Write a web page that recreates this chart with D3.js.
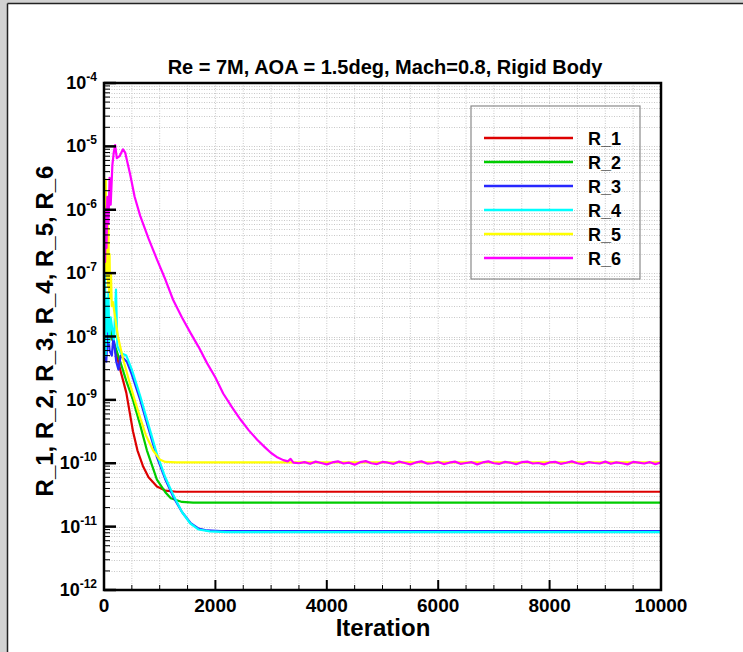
<!DOCTYPE html>
<html>
<head>
<meta charset="utf-8">
<script src="https://cdn.jsdelivr.net/npm/d3@7"></script>
<style>
  body { margin: 0; background: #fff; }
  svg text { font-family: "Liberation Sans", Arial, Helvetica, sans-serif; font-weight: bold; fill: #000; }
</style>
</head>
<body>
<svg id="chart" width="743" height="652"></svg>
<script>
// series: [iteration, residual]
const seriesNames = ["R_1", "R_2", "R_3", "R_4", "R_5", "R_6"]
const seriesColors = ["#dd0000", "#00cc00", "#2828ff", "#00ffff", "#ffff00", "#ff00ff"]

const r1 = [[10, 4e-8], [30, 2e-8], [60, 1.3e-8], [100, 1.8e-8], [130, 9e-9], [160, 1.1e-8], [200, 6e-9],
  [250, 4.2e-9], [300, 2.8e-9], [400, 1.3e-9], [520, 3.2e-10], [600, 1.6e-10], [700, 9e-11], [800, 6e-11],
  [950, 4.3e-11], [1100, 3.7e-11], [1300, 3.55e-11], [10000, 3.55e-11]]
const r2 = [[10, 2.5e-8], [40, 1.2e-8], [100, 1.4e-8], [150, 9e-9], [200, 7e-9], [300, 3.8e-9], [400, 2e-9],
  [520, 1e-9], [650, 4e-10], [770, 1.6e-10], [950, 5.5e-11], [1100, 3.5e-11], [1200, 2.8e-11],
  [1400, 2.45e-11], [1600, 2.4e-11], [10000, 2.4e-11]]
const r3 = [[10, 1e-8], [40, 4e-9], [70, 1.3e-8], [100, 6e-9], [140, 5e-9], [170, 1e-8], [220, 4e-9],
  [260, 3e-9], [300, 5e-9], [410, 4e-9], [500, 2.5e-9], [650, 1e-9], [800, 3.5e-10], [950, 1.25e-10],
  [1100, 5.6e-11], [1240, 3e-11], [1400, 1.7e-11], [1550, 1.15e-11], [1700, 9.3e-12], [1850, 8.7e-12],
  [2100, 8.5e-12], [10000, 8.5e-12]]
const r4 = [[5, 1.2e-7], [20, 6e-8], [30, 5e-9], [45, 4e-8], [60, 1.2e-8], [80, 5e-8], [95, 8e-9],
  [120, 2e-8], [150, 1.3e-8], [180, 9e-9], [215, 5.5e-8], [240, 7e-9], [300, 5.5e-9], [400, 5e-9],
  [500, 3e-9], [650, 1.15e-9], [800, 4e-10], [950, 1.4e-10], [1100, 6e-11], [1240, 3.2e-11],
  [1400, 1.7e-11], [1550, 1.12e-11], [1700, 9e-12], [1900, 8.4e-12], [2200, 8.2e-12], [10000, 8.2e-12]]
const r5 = [[0, 3e-6], [8, 2e-7], [16, 2.5e-6], [24, 1.5e-7], [32, 3e-6], [40, 1e-7], [48, 1.5e-6],
  [56, 8e-8], [64, 1e-6], [72, 6e-8], [80, 5e-7], [90, 5e-8], [100, 2e-7], [110, 4e-8], [125, 1e-7],
  [140, 3e-8], [160, 3.5e-8], [200, 2e-8], [250, 1e-8], [340, 4.5e-9], [450, 2e-9], [550, 1e-9],
  [650, 5.2e-10], [750, 2.8e-10], [880, 1.6e-10], [1000, 1.15e-10], [1100, 1.05e-10], [1300, 1.03e-10],
  [10000, 1.03e-10]]
const r6 = [[0, 1.2e-6], [10, 8e-7], [20, 1.5e-7], [30, 1e-6], [45, 2.5e-7], [60, 1.6e-6], [80, 6e-7],
  [100, 3.2e-6], [120, 1.2e-6], [150, 5e-6], [175, 8e-6], [200, 1.05e-5], [230, 6.5e-6], [280, 7e-6],
  [340, 9e-6], [380, 8e-6], [470, 3.6e-6], [550, 1.6e-6], [650, 8e-7], [800, 3.5e-7], [950, 1.65e-7],
  [1100, 8e-8], [1240, 3.8e-8], [1400, 2e-8], [1550, 1.15e-8], [1700, 6.8e-9], [1850, 3.8e-9],
  [2000, 2.25e-9], [2140, 1.26e-9], [2300, 7.6e-10], [2450, 4.9e-10], [2600, 3.3e-10], [2750, 2.35e-10],
  [2900, 1.75e-10], [3000, 1.45e-10], [3100, 1.26e-10], [3220, 1.12e-10], [3300, 1.07e-10],
  [3350, 1.17e-10], [3400, 1.02e-10], [3500, 1.0e-10], [3600, 1.04e-10], [3700, 0.98e-10],
  [3800, 1.06e-10], [3900, 1.01e-10], [4000, 0.96e-10], [4100, 1.03e-10], [4200, 1.07e-10],
  [4300, 0.99e-10], [4400, 1.02e-10], [4500, 0.95e-10], [4600, 1.04e-10], [4700, 1.08e-10],
  [4800, 1.0e-10], [4900, 0.97e-10], [5000, 1.05e-10], [5100, 1.02e-10], [5200, 0.98e-10],
  [5300, 1.06e-10], [5400, 1.01e-10], [5500, 0.96e-10], [5600, 1.03e-10], [5700, 1.07e-10],
  [5800, 0.99e-10], [5900, 1.0e-10], [6000, 1.05e-10], [6100, 0.97e-10], [6200, 1.02e-10],
  [6300, 1.06e-10], [6400, 0.98e-10], [6500, 1.01e-10], [6600, 1.04e-10], [6700, 0.96e-10],
  [6800, 1.03e-10], [6900, 1.07e-10], [7000, 1.0e-10], [7100, 0.98e-10], [7200, 1.05e-10],
  [7300, 1.02e-10], [7400, 0.97e-10], [7500, 1.04e-10], [7600, 1.06e-10], [7700, 0.99e-10],
  [7800, 1.01e-10], [7900, 0.96e-10], [8000, 1.03e-10], [8100, 1.05e-10], [8200, 0.98e-10],
  [8300, 1.02e-10], [8400, 1.07e-10], [8500, 1.0e-10], [8600, 0.97e-10], [8700, 1.04e-10],
  [8800, 1.01e-10], [8900, 0.99e-10], [9000, 1.06e-10], [9100, 0.98e-10], [9200, 1.03e-10],
  [9300, 1.0e-10], [9400, 0.96e-10], [9500, 1.05e-10], [9600, 1.02e-10], [9700, 0.99e-10],
  [9800, 1.04e-10], [9900, 0.97e-10], [10000, 1.03e-10]]

const xTicks = [0, 2000, 4000, 6000, 8000, 10000]
const yExponents = [-4, -5, -6, -7, -8, -9, -10, -11, -12]
const titleText = "Re = 7M, AOA = 1.5deg, Mach=0.8, Rigid Body"
const xTitle = "Iteration"
const yTitle = "R_1, R_2, R_3, R_4, R_5, R_6"

const pLeft = 104, pRight = 661, pTop = 83, pBottom = 590

const x = d3.scaleLinear().domain([0, 10000]).range([pLeft, pRight])
const y = d3.scaleLog().domain([1e-12, 1e-4]).range([pBottom, pTop])

let svg = d3.select("#chart")

// page frame
svg.append("rect").attr("x", 0).attr("y", 0).attr("width", 743).attr("height", 3.5).attr("fill", "#d2d2d2")
svg.append("rect").attr("x", 0).attr("y", 0).attr("width", 7).attr("height", 652).attr("fill", "#d2d2d2")
svg.append("line").attr("x1", 7.5).attr("x2", 743).attr("y1", 3.5).attr("y2", 3.5).attr("stroke", "#222").attr("stroke-width", 1.5)
svg.append("line").attr("x1", 7.5).attr("x2", 7.5).attr("y1", 3.5).attr("y2", 652).attr("stroke", "#222").attr("stroke-width", 1.5)

svg.append("defs").append("clipPath").attr("id", "clip")
  .append("rect").attr("x", pLeft).attr("y", pTop).attr("width", pRight - pLeft).attr("height", pBottom - pTop)

// grid
let xMinor = d3.range(500, 10000, 500)
let yMinor = []
yExponents.forEach(e => { for (let k = 1; k < 10; k++) yMinor.push(k * Math.pow(10, e)) })
yMinor = yMinor.filter(v => v < 1e-4 && v > 1e-12)

let grid = svg.append("g").attr("stroke", "#c8c8c8").attr("stroke-width", 1).attr("stroke-dasharray", "1,1.5")
grid.selectAll(".gx").data(xMinor).enter().append("line")
  .attr("x1", d => x(d)).attr("x2", d => x(d)).attr("y1", pTop).attr("y2", pBottom)
grid.selectAll(".gy").data(yMinor).enter().append("line")
  .attr("x1", pLeft).attr("x2", pRight).attr("y1", d => Math.round(y(d)) + 0.5).attr("y2", d => Math.round(y(d)) + 0.5)

// legend box (drawn under curves)
svg.append("rect").attr("x", 471).attr("y", 106).attr("width", 169).attr("height", 173)
  .attr("fill", "none").attr("stroke", "#8a8a8a").attr("stroke-width", 1.2)

// curves
const allSeries = [r1, r2, r3, r4, r5, r6]
let line = d3.line().x(d => x(d[0])).y(d => y(d[1]))
let curves = svg.append("g").attr("clip-path", "url(#clip)")
curves.selectAll("path").data(allSeries).enter().append("path")
  .attr("d", line)
  .attr("fill", "none")
  .attr("stroke", (d, i) => seriesColors[i])
  .attr("stroke-width", 2.2)
  .attr("stroke-linejoin", "round")

// legend entries
let legend = svg.append("g")
seriesNames.forEach((name, i) => {
  let ly = 138 + i * 24
  legend.append("line").attr("x1", 484).attr("x2", 573).attr("y1", ly).attr("y2", ly)
    .attr("stroke", seriesColors[i]).attr("stroke-width", 2.5)
  legend.append("text").attr("x", 588).attr("y", ly + 6.5).attr("font-size", 18).text(name)
})

// axes frame + ticks
let axes = svg.append("g").attr("stroke", "#000")
axes.selectAll(".ymaj").data(yExponents).enter().append("line")
  .attr("x1", pLeft).attr("x2", pLeft + 12).attr("y1", d => y(Math.pow(10, d))).attr("y2", d => y(Math.pow(10, d)))
  .attr("stroke-width", 2.5)
axes.selectAll(".ymin").data(yMinor.filter(v => Math.abs(Math.log10(v) - Math.round(Math.log10(v))) > 1e-6)).enter().append("line")
  .attr("x1", pLeft).attr("x2", pLeft + 6).attr("y1", d => y(d)).attr("y2", d => y(d))
  .attr("stroke-width", 1)
axes.selectAll(".xmaj").data(xTicks).enter().append("line")
  .attr("x1", d => x(d)).attr("x2", d => x(d)).attr("y1", pBottom).attr("y2", pBottom - 10)
  .attr("stroke-width", 2)
axes.selectAll(".xmin").data(xMinor.filter(v => v % 2000 !== 0)).enter().append("line")
  .attr("x1", d => x(d)).attr("x2", d => x(d)).attr("y1", pBottom).attr("y2", pBottom - 5)
  .attr("stroke-width", 1)
axes.append("rect").attr("x", pLeft).attr("y", pTop).attr("width", pRight - pLeft).attr("height", pBottom - pTop)
  .attr("fill", "none").attr("stroke-width", 2.5)

// tick labels
svg.selectAll(".xl").data(xTicks).enter().append("text")
  .attr("x", d => x(d)).attr("y", pBottom + 22)
  .attr("text-anchor", "middle").attr("font-size", 19)
  .text(d => d)

let yl = svg.selectAll(".yl").data(yExponents).enter().append("text")
  .attr("x", 97).attr("y", d => y(Math.pow(10, d)) + 6)
  .attr("text-anchor", "end").attr("font-size", 18)
yl.append("tspan").text("10")
yl.append("tspan").attr("dy", -8).attr("font-size", 12).text(d => d)

// titles
svg.append("text").attr("x", 385).attr("y", 74).attr("text-anchor", "middle").attr("font-size", 20).text(titleText)
svg.append("text").attr("x", 383).attr("y", 636).attr("text-anchor", "middle").attr("font-size", 24).text(xTitle)
svg.append("text").attr("transform", "translate(53,331) rotate(-90)").attr("text-anchor", "middle")
  .attr("font-size", 24).text(yTitle)
</script>
</body>
</html>
